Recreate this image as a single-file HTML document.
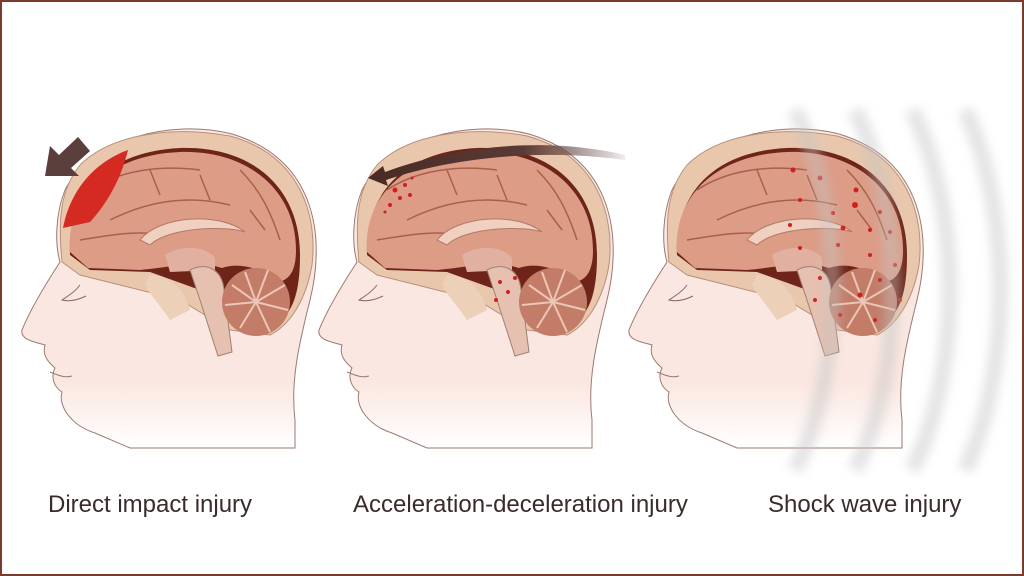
<!DOCTYPE html>
<html><head><meta charset="utf-8"><style>
html,body{margin:0;padding:0;background:#fff}
.wrap{position:relative;width:1020px;height:572px;border:2px solid #7a3b2e;overflow:hidden;background:#fff}
.lbl{position:absolute;top:489px;font-family:"Liberation Sans",sans-serif;font-size:24px;color:#3b2b2b;white-space:nowrap}
svg{position:absolute;left:0;top:0}
</style></head><body><div class="wrap">
<svg width="1020" height="572" viewBox="2 2 1020 572">
<defs>
<linearGradient id="fade" x1="0" y1="0" x2="0" y2="1"><stop offset="0.8" stop-color="#fbe7e1"/><stop offset="1" stop-color="#fff"/></linearGradient>
<linearGradient id="arr" x1="1" y1="0" x2="0" y2="0"><stop offset="0" stop-color="#5a3a35" stop-opacity="0.1"/><stop offset="0.4" stop-color="#5a3a35"/><stop offset="1" stop-color="#4a2a25"/></linearGradient>
<linearGradient id="wave" x1="0" y1="0" x2="1" y2="0"><stop offset="0" stop-color="#b8b8b8"/><stop offset="1" stop-color="#ffffff" stop-opacity="0"/></linearGradient>
<filter id="bl"><feGaussianBlur stdDeviation="5"/></filter>
<g id="head">
<path d="M60,262 C45,285 30,310 22,330 C20,340 35,342 45,345 C42,355 48,362 55,368 C50,378 55,388 62,392 C58,405 70,425 95,433 L130,448 L295,448 L295,420 C290,380 300,340 310,300 C325,240 318,160 232,134 C170,118 90,140 65,190 C55,215 55,245 60,262 Z" fill="url(#fade)" stroke="#9a7a70" stroke-width="1"/>
<path d="M62,262 C58,220 60,190 80,165 C110,135 170,125 230,136 C300,155 318,215 312,265 C306,300 290,325 270,335 L230,330 L180,300 L120,285 L80,275 Z" fill="#e9c7ad" stroke="#b8907a"/>
<path d="M70,255 C68,200 100,152 180,148 C255,146 300,190 300,255 C300,300 290,320 265,330 L230,322 L200,290 L150,272 L90,270 Z" fill="#6e2418"/>
<path d="M70,252 C66,200 105,155 180,152 C250,150 296,192 296,250 C296,270 290,280 278,282 C260,268 240,262 222,268 L200,262 C180,265 160,268 140,270 L88,268 Z" fill="#dc9c86"/>
<path d="M90,190 C120,170 160,165 200,170 M110,220 C150,200 190,195 230,205 M80,240 C110,235 140,230 160,235 M240,170 C260,190 270,210 280,240 M200,175 L210,200 M150,170 L160,195 M250,210 L265,230" stroke="#a8604c" stroke-width="1.5" fill="none"/>
<path d="M140,240 C160,215 220,212 245,232 C230,226 170,226 150,245 Z" fill="#f0d0c0" stroke="#b07a66"/>
<path d="M165,255 C180,245 205,245 215,258 L215,270 L170,272 Z" fill="#e2b0a0"/>
<path d="M190,270 C205,262 222,268 224,290 L232,352 L218,356 L200,300 Z" fill="#e6c0b0" stroke="#a08070"/>
<path d="M150,275 C170,275 185,290 190,310 L170,320 C160,305 150,295 145,285 Z" fill="#ecd1b8"/>
<circle cx="256" cy="302" r="34" fill="#c27c68"/>
<path d="M256,302 L232,285 M256,302 L245,272 M256,302 L268,270 M256,302 L285,285 M256,302 L288,310 M256,302 L270,332 M256,302 L240,328 M256,302 L225,305" stroke="#ecc6b6" stroke-width="2"/>
<path d="M80,285 C75,292 68,296 62,300 C70,302 78,300 86,296" fill="none" stroke="#8a6a60"/>
<path d="M50,372 C60,376 65,378 72,376" fill="none" stroke="#9a7a70"/>
</g>
</defs>
<use href="#head"/>
<use href="#head" x="297"/>
<use href="#head" x="607"/>
<path d="M63,228 C70,190 95,162 128,150 C122,175 110,200 90,222 Z" fill="#d42a22"/>
<path d="M45,176 L50,146 L59,155 L78,137 L90,151 L71,168 L79,176 Z" fill="#5a3f3c"/>
<path d="M625,155 C540,135 450,148 385,172 L383,166 L368,178 L388,186 L386,180 C450,158 540,148 625,160 Z" fill="url(#arr)"/>
<g fill="#d02020">
<circle cx="395" cy="190" r="2.5"/><circle cx="400" cy="198" r="2"/><circle cx="405" cy="185" r="2"/><circle cx="390" cy="205" r="2"/><circle cx="410" cy="195" r="2"/><circle cx="385" cy="212" r="1.5"/><circle cx="412" cy="178" r="1.5"/>
<circle cx="500" cy="282" r="2"/><circle cx="508" cy="292" r="2"/><circle cx="496" cy="300" r="2"/><circle cx="515" cy="278" r="2"/>
</g>
<g fill="#d02020">
<circle cx="793" cy="170" r="2.5"/><circle cx="820" cy="178" r="2.5"/><circle cx="856" cy="190" r="2.5"/><circle cx="855" cy="205" r="3"/><circle cx="880" cy="212" r="2"/><circle cx="800" cy="200" r="2"/><circle cx="833" cy="213" r="2"/><circle cx="843" cy="228" r="2.5"/><circle cx="870" cy="230" r="2"/><circle cx="890" cy="232" r="2"/><circle cx="790" cy="225" r="2"/><circle cx="800" cy="248" r="2"/><circle cx="838" cy="245" r="2"/><circle cx="870" cy="255" r="2"/><circle cx="895" cy="265" r="2"/><circle cx="880" cy="280" r="2"/><circle cx="860" cy="295" r="2.5"/><circle cx="820" cy="278" r="2"/><circle cx="815" cy="300" r="2"/><circle cx="840" cy="315" r="2"/><circle cx="875" cy="320" r="2"/><circle cx="900" cy="300" r="2"/></g>
<g fill="none" stroke="#c4c4c4" stroke-width="16" opacity="0.45" filter="url(#bl)">
<path d="M795,110 C845,210 845,370 795,470"/>
<path d="M855,110 C905,210 905,370 855,470"/>
<path d="M912,110 C962,210 962,370 912,470"/>
<path d="M965,110 C1012,210 1012,370 965,470"/>
</g>
</svg>
<div class="lbl" style="left:46px">Direct impact injury</div>
<div class="lbl" style="left:351px">Acceleration-deceleration injury</div>
<div class="lbl" style="left:766px">Shock wave injury</div>
</div></body></html>
